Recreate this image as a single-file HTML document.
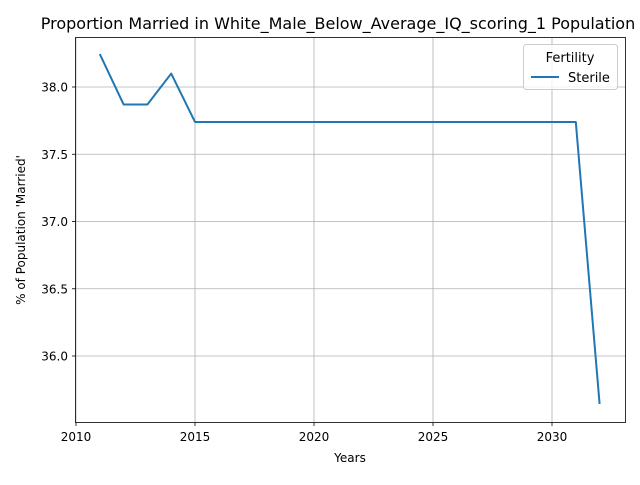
<!DOCTYPE html>
<html><head><meta charset="utf-8"><style>
body{margin:0;background:#fff;}
svg text{font-family:"DejaVu Sans","Liberation Sans",sans-serif;fill:#000;}
</style></head><body>
<svg id="chart" width="640" height="480" viewBox="0 0 640 480" xmlns="http://www.w3.org/2000/svg">
<rect width="640" height="480" fill="#fff"/>
<g id="grid"></g>
<g id="ticks"></g>
<polyline id="series" fill="none" stroke="#1f77b4" stroke-width="2" stroke-linejoin="round"/>
<rect x="75.5" y="37.5" width="550" height="385" fill="none" stroke="#000" stroke-width="0.8"/>
<text x="338" y="29" font-size="16" text-anchor="middle">Proportion Married in White_Male_Below_Average_IQ_scoring_1 Population</text>
<text x="350" y="462" font-size="12" text-anchor="middle">Years</text>
<text transform="translate(25,230) rotate(-90)" font-size="12" text-anchor="middle">% of Population 'Married'</text>
<g>
<rect x="523.5" y="44.5" width="94" height="45" rx="3" fill="#fff" fill-opacity="0.8" stroke="#ccc"/>
<text x="570" y="62" font-size="13" text-anchor="middle">Fertility</text>
<line x1="531" y1="77" x2="559" y2="77" stroke="#1f77b4" stroke-width="2"/>
<text x="568" y="82" font-size="13">Sterile</text>
</g>
</svg>
<script>
const years=[2011,2012,2013,2014,2015,2016,2017,2018,2019,2020,2021,2022,2023,2024,2025,2026,2027,2028,2029,2030,2031,2032];
const married=[38.245,37.87,37.87,38.10,37.74,37.74,37.74,37.74,37.74,37.74,37.74,37.74,37.74,37.74,37.74,37.74,37.74,37.74,37.74,37.74,37.74,35.643];
const xTicks=[2010,2015,2020,2025,2030];
const yTicks=[36.0,36.5,37.0,37.5,38.0];
const yTickLabels=["36.0","36.5","37.0","37.5","38.0"];
const ns="http://www.w3.org/2000/svg";
function xs(v){return 76+(v-2010)*23.8;}
function ys(v){return 87+(38-v)*134.5;}
const grid=document.getElementById('grid'),ticks=document.getElementById('ticks');
function mk(tag,attrs,parent){const e=document.createElementNS(ns,tag);for(const k in attrs)e.setAttribute(k,attrs[k]);parent.appendChild(e);return e;}
xTicks.forEach(t=>{
 const x=xs(t);
 const g=mk('line',{x1:x,x2:x,y1:37.5,y2:422.5,stroke:'#b0b0b0','stroke-width':0.8},grid);
 
 
 mk('line',{x1:x,x2:x,y1:422.5,y2:426,stroke:'#000','stroke-width':0.8},ticks);
 const tx=mk('text',{x:x,y:441,'font-size':12,'text-anchor':'middle'},ticks);
 tx.textContent=t;
 
 
});
yTicks.forEach((t,i)=>{
 const y=ys(t);
 const g=mk('line',{x1:75.5,x2:625.5,y1:y,y2:y,stroke:'#b0b0b0','stroke-width':0.8},grid);
 
 
 mk('line',{x1:72,x2:75.5,y1:y,y2:y,stroke:'#000','stroke-width':0.8},ticks);
 const tx=mk('text',{x:68,y:y+4.5,'font-size':12,'text-anchor':'end'},ticks);
 tx.textContent=yTickLabels[i];
 
 
});
document.getElementById('series').setAttribute('points',years.map((y,i)=>xs(y)+','+ys(married[i])).join(' '));
</script>
</body></html>
